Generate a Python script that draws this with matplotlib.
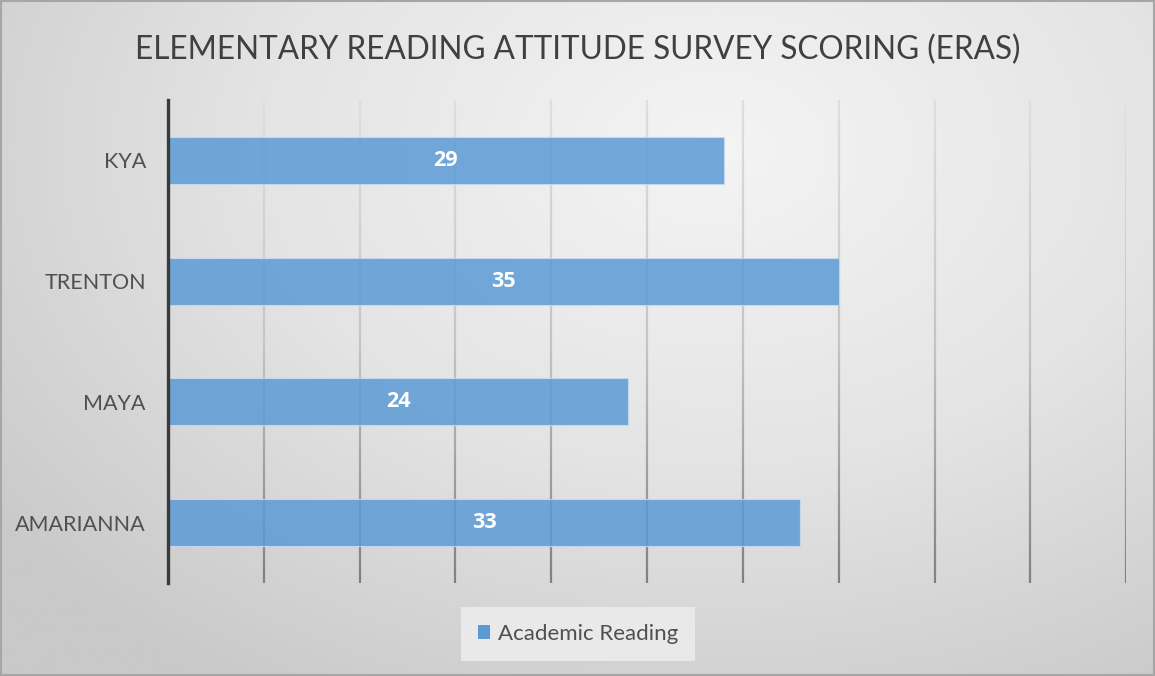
import matplotlib as mpl
import matplotlib.pyplot as plt
import numpy as np
from matplotlib.collections import LineCollection
from matplotlib.colors import LinearSegmentedColormap
from matplotlib.patches import Rectangle

NAMES = ["KYA", "TRENTON", "MAYA", "AMARIANNA"]
SCORES = [29, 35, 24, 33]
SERIES = "Academic Reading"
TITLE = "ELEMENTARY READING ATTITUDE SURVEY SCORING (ERAS)"

BAR = "#5b9bd5"
TEXT = "#505050"
FONT = ["Lato", "DejaVu Sans"]

mpl.rcParams["font.family"] = FONT

fig = plt.figure(figsize=(11.55, 6.76), dpi=100)

# gradient chart-area background
bg = fig.add_axes([0, 0, 1, 1], zorder=-10)
yy, xx = np.mgrid[0:1:300j, 0:1:500j]
r = np.sqrt(((xx - 0.62) / 0.75) ** 2 + ((yy - 0.22) / 0.9) ** 2)
bg_cmap = LinearSegmentedColormap.from_list("bg", ["#f4f4f4", "#e4e4e4", "#c9c9c9"])
bg.imshow(r, cmap=bg_cmap, vmin=0, vmax=1.05, aspect="auto", extent=[0, 1, 1, 0])
bg.add_patch(Rectangle((0.001, 0.002), 0.998, 0.996, transform=bg.transAxes,
                       fill=False, edgecolor="#a6a6a6", linewidth=1.5))
bg.set_axis_off()

ax = fig.add_axes([0.1455, 1 - 583 / 676, 0.975 - 0.1455, (583 - 100) / 676])
ax.patch.set_visible(False)

y = np.arange(len(NAMES))
ax.set_xlim(0, 50)
ax.set_ylim(len(NAMES) - 0.5, -0.5)
ax.set_xticks(np.arange(0, 51, 5))

# vertical gridlines fading from light (top) to darker (bottom)
grid_cmap = LinearSegmentedColormap.from_list("grid", ["#dedede", "#c4c4c4", "#7f7f7f"])
ts = np.linspace(0, 1, 60)
for xv in ax.get_xticks()[1:]:
    ys = -0.5 + ts * len(NAMES)
    pts = np.column_stack([np.full_like(ys, xv), ys]).reshape(-1, 1, 2)
    segs = np.concatenate([pts[:-1], pts[1:]], axis=1)
    lc = LineCollection(segs, colors=grid_cmap(ts[:-1]), linewidths=1.6, zorder=1)
    ax.add_collection(lc)

bars = ax.barh(y, SCORES, height=0.39, color=BAR, alpha=0.85, edgecolor="#c5dcf0",
               linewidth=0.8, zorder=2, label=SERIES)
for rect, v in zip(bars, SCORES):
    ax.text(rect.get_x() + rect.get_width() / 2, rect.get_y() + rect.get_height() / 2,
            str(v), ha="center", va="center", color="white", fontsize=15.5,
            fontweight="bold", family=["Open Sans", "DejaVu Sans"], zorder=3)

ax.set_yticks(y, labels=NAMES)
ax.tick_params(axis="y", length=0, pad=16, labelsize=15.5, labelcolor=TEXT)
ax.tick_params(axis="x", length=0, labelbottom=False)
for side in ["top", "right", "bottom"]:
    ax.spines[side].set_visible(False)
ax.spines["left"].set_color("#3a3a3a")
ax.spines["left"].set_linewidth(2.4)
ax.spines["left"].set_zorder(4)

fig.text(0.5, 1 - 50 / 676, TITLE, ha="center", va="center", fontsize=22.7, color="#404040")

leg = fig.legend(handles=[bars], labels=[SERIES], loc="center",
                 bbox_to_anchor=(578 / 1155, 1 - 634 / 676), frameon=True,
                 fontsize=16, handlelength=0.55, handleheight=0.55, handletextpad=0.35,
                 borderpad=0.75, borderaxespad=0, fancybox=False)
leg.get_frame().set_facecolor("#ececec")
leg.get_frame().set_edgecolor("none")
leg.get_frame().set_alpha(0.9)
for t in leg.get_texts():
    t.set_color(TEXT)
for h in leg.legend_handles:
    h.set_edgecolor("none")
    h.set_alpha(1)

fig.savefig("out.png", dpi=100)
